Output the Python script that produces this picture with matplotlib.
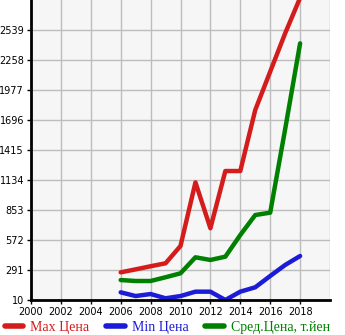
import matplotlib
matplotlib.use('Agg')
import matplotlib.pyplot as plt
from matplotlib.lines import Line2D

# Prices by year
years = [2006, 2007, 2008, 2009, 2010, 2011, 2012, 2013, 2014, 2015, 2016, 2017, 2018]
max_price = [269, 297, 326, 354, 516, 1112, 682, 1218, 1218, 1790, 2149, 2508, 2840]
min_price = [82, 47, 66, 26, 47, 88, 88, 10, 88, 129, 235, 338, 422]
avg_price = [197, 188, 188, 223, 260, 410, 385, 416, 619, 806, 828, 1610, 2414]

y_ticks = [10, 291, 572, 853, 1134, 1415, 1696, 1977, 2258, 2539]
x_ticks = list(range(2000, 2019, 2))

series_names = ['Max Цена', 'Min Цена', 'Сред.Цена, т.йен']
colors = ['#d41c1c', '#1c1cd8', '#008000']

fig = plt.figure(figsize=(3.45, 3.35), dpi=100)
ax = fig.add_axes([31 / 345, 35 / 335, 299 / 345, 300 / 335])
ax.set_facecolor('#f6f6f6')

for vals, c in zip([max_price, min_price, avg_price], colors):
    ax.plot(years, vals, color=c, lw=3.2, solid_capstyle='round',
            solid_joinstyle='round', clip_on=True)

ax.set_xlim(2000, 2020)
ax.set_ylim(10, 2820)
ax.set_xticks(x_ticks)
ax.set_yticks(y_ticks)
ax.set_xticks([2020], minor=True)
ax.grid(True, which='both', color='#bdbdbd', lw=1)
ax.set_axisbelow(True)
ax.tick_params(axis='both', labelsize=7, length=3, width=1, color='black', pad=2)
ax.tick_params(axis='x', which='minor', length=0)

for side in ['top', 'right']:
    ax.spines[side].set_visible(False)
for side in ['left', 'bottom']:
    ax.spines[side].set_linewidth(2)
    ax.spines[side].set_color('black')

handles = [Line2D([0], [0], color=c, lw=4, solid_capstyle='round') for c in colors]
leg = fig.legend(handles, series_names, loc='lower left', bbox_to_anchor=(0.005, -0.004),
                 ncol=3, frameon=False, handlelength=1.35, handletextpad=0.5,
                 columnspacing=1.2, borderaxespad=0, borderpad=0.2,
                 prop={'family': 'Liberation Serif', 'size': 10})
for txt, c in zip(leg.get_texts(), colors):
    txt.set_color(c)

fig.savefig('out.png', dpi=100)
